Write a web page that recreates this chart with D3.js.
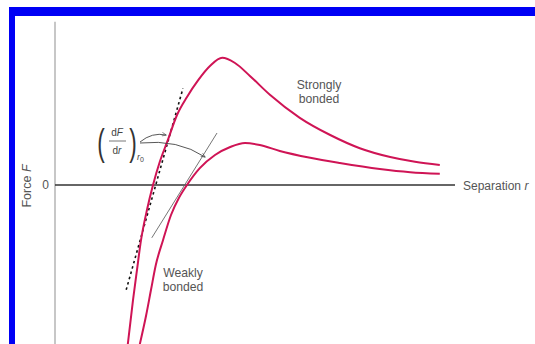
<!DOCTYPE html>
<html>
<head>
<meta charset="utf-8">
<script src="https://cdn.jsdelivr.net/npm/d3@7/dist/d3.min.js"></script>
<style>
  html, body { margin: 0; padding: 0; background: #fff; }
  svg { display: block; }
  text { font-family: "Liberation Sans", Arial, sans-serif; fill: #555; }
</style>
</head>
<body>
<svg id="chart" width="535" height="344"></svg>
<script>
// Interatomic force F versus separation r, for a strongly and a weakly bonded pair
const strongR = [1.82, 1.95, 2.05, 2.15, 2.3, 2.45, 2.62, 2.82, 3.05, 3.3, 3.58, 3.88, 4.18, 4.5, 4.88, 5.38, 6.12, 6.88, 7.62, 8.38, 9.0, 9.62];
const strongF = [-3.98, -2.88, -2.12, -1.38, -0.62, 0, 0.58, 1.12, 1.75, 2.2, 2.62, 2.98, 3.18, 3.05, 2.72, 2.25, 1.68, 1.25, 0.92, 0.7, 0.58, 0.5];
const weakR = [2.12, 2.28, 2.4, 2.52, 2.7, 2.9, 3.1, 3.3, 3.62, 4.0, 4.38, 4.75, 5.12, 5.62, 6.38, 7.12, 8.12, 8.88, 9.62];
const weakF = [-3.98, -3.25, -2.62, -2.0, -1.38, -0.75, -0.32, 0, 0.42, 0.75, 0.95, 1.05, 1.0, 0.85, 0.68, 0.55, 0.4, 0.32, 0.28];
// Tangents (dF/dr) at r0 for each curve, as end points [r, F]
const strongTangent = [[1.78, -2.62], [3.2, 2.42]];
const weakTangent = [[2.42, -1.32], [4.05, 1.3]];
const yTicks = [0];
const rAxisEnd = 10;
const fAxisRange = [-4.0, 4.08];

const svg = d3.select("#chart");

// frame
svg.append("rect").attr("x", 9).attr("y", 7).attr("width", 526).attr("height", 9).attr("fill", "#0000f5");
svg.append("rect").attr("x", 9).attr("y", 7).attr("width", 6).attr("height", 337).attr("fill", "#0000f5");

const x = d3.scaleLinear().domain([0, 10]).range([55, 455]);
const y = d3.scaleLinear().domain([-4, 4]).range([345, 25]);

// y axis line
svg.append("line")
  .attr("x1", x(0)).attr("x2", x(0))
  .attr("y1", y(fAxisRange[1])).attr("y2", y(fAxisRange[0]))
  .attr("stroke", "#b4b4b4").attr("stroke-width", 1.5);

// x axis line
svg.append("line")
  .attr("x1", x(0)).attr("x2", x(rAxisEnd))
  .attr("y1", y(0)).attr("y2", y(0))
  .attr("stroke", "#333").attr("stroke-width", 1.6);

// zero tick label
const yAxis = d3.axisLeft(y).tickValues(yTicks).tickSize(0).tickPadding(6).tickFormat(d3.format("d"));
const gy = svg.append("g").attr("transform", `translate(${x(0)},0)`).call(yAxis);
gy.select(".domain").remove();
gy.selectAll("text").attr("font-size", 12).style("fill", "#555").attr("font-family", "Liberation Sans, Arial, sans-serif");

// axis titles
svg.append("text")
  .attr("transform", "translate(31,186) rotate(-90)")
  .attr("text-anchor", "middle").attr("font-size", 12.5)
  .html('Force <tspan font-style="italic">F</tspan>');
svg.append("text")
  .attr("x", 463).attr("y", 190)
  .attr("font-size", 12)
  .html('Separation <tspan font-style="italic">r</tspan>');

// tangent lines
const tline = d3.line().x(d => x(d[0])).y(d => y(d[1]));
svg.append("path").attr("d", tline(strongTangent))
  .attr("fill", "none").attr("stroke", "#111").attr("stroke-width", 1.6)
  .attr("stroke-dasharray", "2.5,3");
svg.append("path").attr("d", tline(weakTangent))
  .attr("fill", "none").attr("stroke", "#666").attr("stroke-width", 0.9);

// force curves
const curve = d3.line().x(d => x(d[0])).y(d => y(d[1])).curve(d3.curveMonotoneX);
const crimson = "#cf1455";
svg.append("path").attr("d", curve(d3.zip(strongR, strongF)))
  .attr("fill", "none").attr("stroke", crimson).attr("stroke-width", 2);
svg.append("path").attr("d", curve(d3.zip(weakR, weakF)))
  .attr("fill", "none").attr("stroke", crimson).attr("stroke-width", 2);

// curve labels
const lab = (tx, ty, lines) => {
  const t = svg.append("text").attr("x", tx).attr("y", ty).attr("text-anchor", "middle").attr("font-size", 12.2);
  lines.forEach((s, i) => t.append("tspan").attr("x", tx).attr("dy", i ? 14 : 0).text(s));
};
lab(319, 89, ["Strongly", "bonded"]);
lab(183, 277, ["Weakly", "bonded"]);

// (dF/dr) at r0 annotation
const ann = svg.append("g");
const paren = (px, ch) => ann.append("text")
  .attr("transform", `translate(${px},155) scale(0.75,1.25)`)
  .attr("font-size", 30).attr("text-anchor", "middle")
  .attr("font-family", "DejaVu Sans, sans-serif").style("fill", "#333").text(ch);
paren(101, "(");
paren(133, ")");
ann.append("text").attr("x", 117).attr("y", 136).attr("font-size", 10).attr("text-anchor", "middle")
  .attr("font-family", "DejaVu Serif, serif").style("fill", "#444")
  .html('d<tspan font-style="italic">F</tspan>');
ann.append("line").attr("x1", 109).attr("x2", 126).attr("y1", 141).attr("y2", 141)
  .attr("stroke", "#555").attr("stroke-width", 0.8);
ann.append("text").attr("x", 117).attr("y", 154).attr("font-size", 10).attr("text-anchor", "middle")
  .attr("font-family", "DejaVu Serif, serif").style("fill", "#444")
  .html('d<tspan font-style="italic">r</tspan>');
ann.append("text").attr("x", 137).attr("y", 160).attr("font-size", 9)
  .attr("font-family", "DejaVu Serif, serif").style("fill", "#444")
  .html('<tspan font-style="italic">r</tspan><tspan font-size="7" dy="2">0</tspan>');

svg.append("defs").append("marker")
  .attr("id", "head").attr("viewBox", "0 0 10 10").attr("refX", 9).attr("refY", 5)
  .attr("markerWidth", 7).attr("markerHeight", 5).attr("orient", "auto")
  .append("path").attr("d", "M0,1 L10,5 L0,9").attr("fill", "none").attr("stroke", "#444").attr("stroke-width", 1.3);

svg.append("path").attr("d", "M140,142 Q152,132 166,135")
  .attr("fill", "none").attr("stroke", "#444").attr("stroke-width", 0.9).attr("marker-end", "url(#head)");
svg.append("path").attr("d", "M140,143 Q178,139 205,157")
  .attr("fill", "none").attr("stroke", "#444").attr("stroke-width", 0.9).attr("marker-end", "url(#head)");
</script>
</body>
</html>
